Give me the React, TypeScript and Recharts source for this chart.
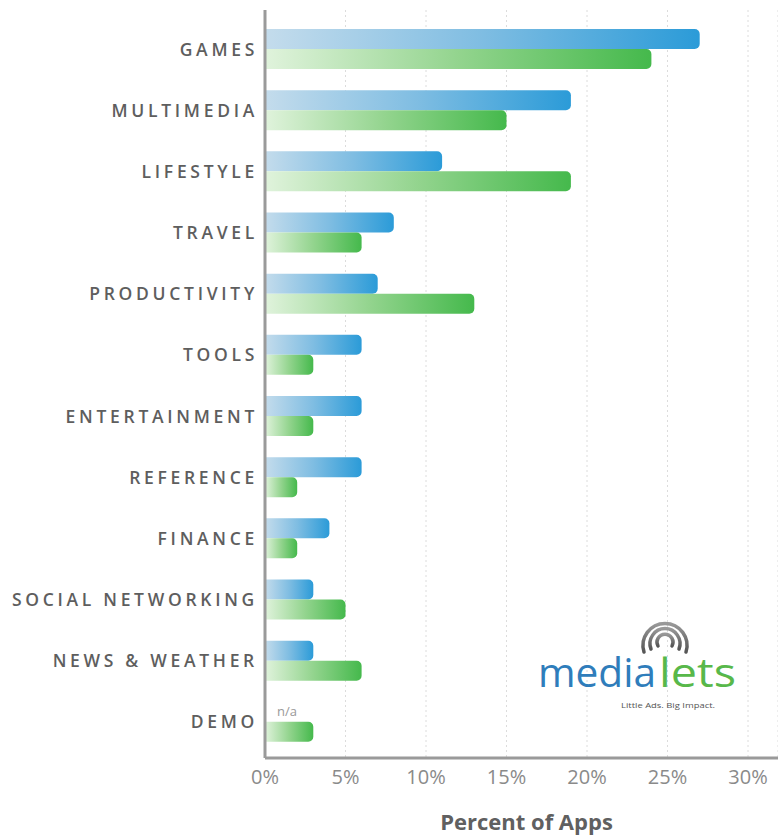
import { Bar, BarChart, CartesianGrid, LabelList, Label, XAxis, YAxis } from "recharts";

const categories = [
  "GAMES",
  "MULTIMEDIA",
  "LIFESTYLE",
  "TRAVEL",
  "PRODUCTIVITY",
  "TOOLS",
  "ENTERTAINMENT",
  "REFERENCE",
  "FINANCE",
  "SOCIAL NETWORKING",
  "NEWS & WEATHER",
  "DEMO"
];
const blueShare = [27, 19, 11, 8, 7, 6, 6, 6, 4, 3, 3, null];
const greenShare = [24, 15, 19, 6, 13, 3, 3, 2, 2, 5, 6, 3];
const notes = ["", "", "", "", "", "", "", "", "", "", "", "n/a"];
const xTicks = [0, 5, 10, 15, 20, 25, 30];

const data = categories.map((name, i) => ({
  name,
  blue: blueShare[i],
  green: greenShare[i],
  note: notes[i]
}));

function CategoryTick({ x, y, payload }: any) {
  return (
    <text
      x={x + 1}
      y={y}
      dy="0.4em"
      textAnchor="end"
      fill="#5e5e5e"
      fontFamily="Open Sans"
      fontWeight={600}
      fontSize={17.5}
      letterSpacing={3.7}
    >
      {payload.value}
    </text>
  );
}

function NoteLabel({ x, y, value }: any) {
  if (!value) return null;
  return (
    <text x={x + 12} y={y - 6} fill="#999" fontFamily="Open Sans" fontSize={13}>
      {value}
    </text>
  );
}

function Logo() {
  return (
    <svg
      width={778}
      height={840}
      style={{ position: "absolute", left: 0, top: 0, pointerEvents: "none" }}
    >
      <defs>
        <linearGradient id="arcGrad" x1="0" y1="0" x2="0" y2="1">
          <stop offset="0%" stopColor="#999" />
          <stop offset="100%" stopColor="#555" />
        </linearGradient>
      </defs>
      <g fill="none" stroke="url(#arcGrad)" strokeWidth={3.5} strokeLinecap="round">
        <path d="M 658 646 A 8 8 0 1 1 672 646" />
        <path d="M 651 649 A 15 15 0 1 1 679 649" />
        <path d="M 644 652 A 22 22 0 1 1 686 652" />
      </g>
      <text
        x={538}
        y={687}
        fontFamily="Open Sans"
        fontSize={41}
        fill="#2f7dbb"
        textLength={118}
        lengthAdjust="spacingAndGlyphs"
      >
        media
      </text>
      <text
        x={659}
        y={687}
        fontFamily="Open Sans"
        fontSize={41}
        fill="#58b84a"
        textLength={77}
        lengthAdjust="spacingAndGlyphs"
      >
        lets
      </text>
      <text
        x={621}
        y={708}
        fontFamily="Open Sans"
        fontSize={8}
        fill="#555"
        textLength={94}
        lengthAdjust="spacingAndGlyphs"
      >
        Little Ads. Big Impact.
      </text>
    </svg>
  );
}

export default function App() {
  return (
    <div style={{ position: "relative", width: 778, height: 840, background: "#fff" }}>
      <style>{`body{margin:0}`}</style>
      <BarChart
        width={778}
        height={840}
        data={data}
        layout="vertical"
        margin={{ top: 10, right: 0, bottom: 42, left: 0 }}
        barSize={20}
        barGap={0}
      >
        <defs>
          <linearGradient id="blueGrad" x1="0" y1="0" x2="1" y2="0">
            <stop offset="0%" stopColor="#c4dcec" />
            <stop offset="50%" stopColor="#7fbde2" />
            <stop offset="100%" stopColor="#2b9bd8" />
          </linearGradient>
          <linearGradient id="greenGrad" x1="0" y1="0" x2="1" y2="0">
            <stop offset="0%" stopColor="#e0f3dc" />
            <stop offset="50%" stopColor="#93d48e" />
            <stop offset="100%" stopColor="#45b94c" />
          </linearGradient>
        </defs>
        <CartesianGrid horizontal={false} stroke="#dcdcdc" strokeDasharray="2 3" />
        <XAxis
          type="number"
          domain={[0, 30]}
          ticks={xTicks}
          tickFormatter={(v) => `${v}%`}
          axisLine={{ stroke: "#9a9a9a", strokeWidth: 3 }}
          tickLine={false}
          tickMargin={6}
          padding={{ left: 0, right: 30 }}
          height={40}
          tick={{ fontSize: 20, fill: "#8a8a8a", fontFamily: "Open Sans" }}
        >
          <Label
            content={({ viewBox }: any) => (
              <text
                x={viewBox.x + viewBox.width / 2 + 5}
                y={viewBox.y + 72}
                textAnchor="middle"
                fill="#606060"
                fontFamily="Open Sans"
                fontWeight={700}
                fontSize={22}
              >
                Percent of Apps
              </text>
            )}
          />
        </XAxis>
        <YAxis
          type="category"
          dataKey="name"
          width={265}
          axisLine={{ stroke: "#9a9a9a", strokeWidth: 3 }}
          tickLine={false}
          padding={{ top: 8, bottom: 6 }}
          tick={<CategoryTick />}
        />
        <Bar dataKey="blue" fill="url(#blueGrad)" radius={[0, 5, 5, 0]} isAnimationActive={false} />
        <Bar dataKey="green" fill="url(#greenGrad)" radius={[0, 5, 5, 0]} isAnimationActive={false}>
          <LabelList dataKey="note" content={<NoteLabel />} />
        </Bar>
      </BarChart>
      <Logo />
    </div>
  );
}
